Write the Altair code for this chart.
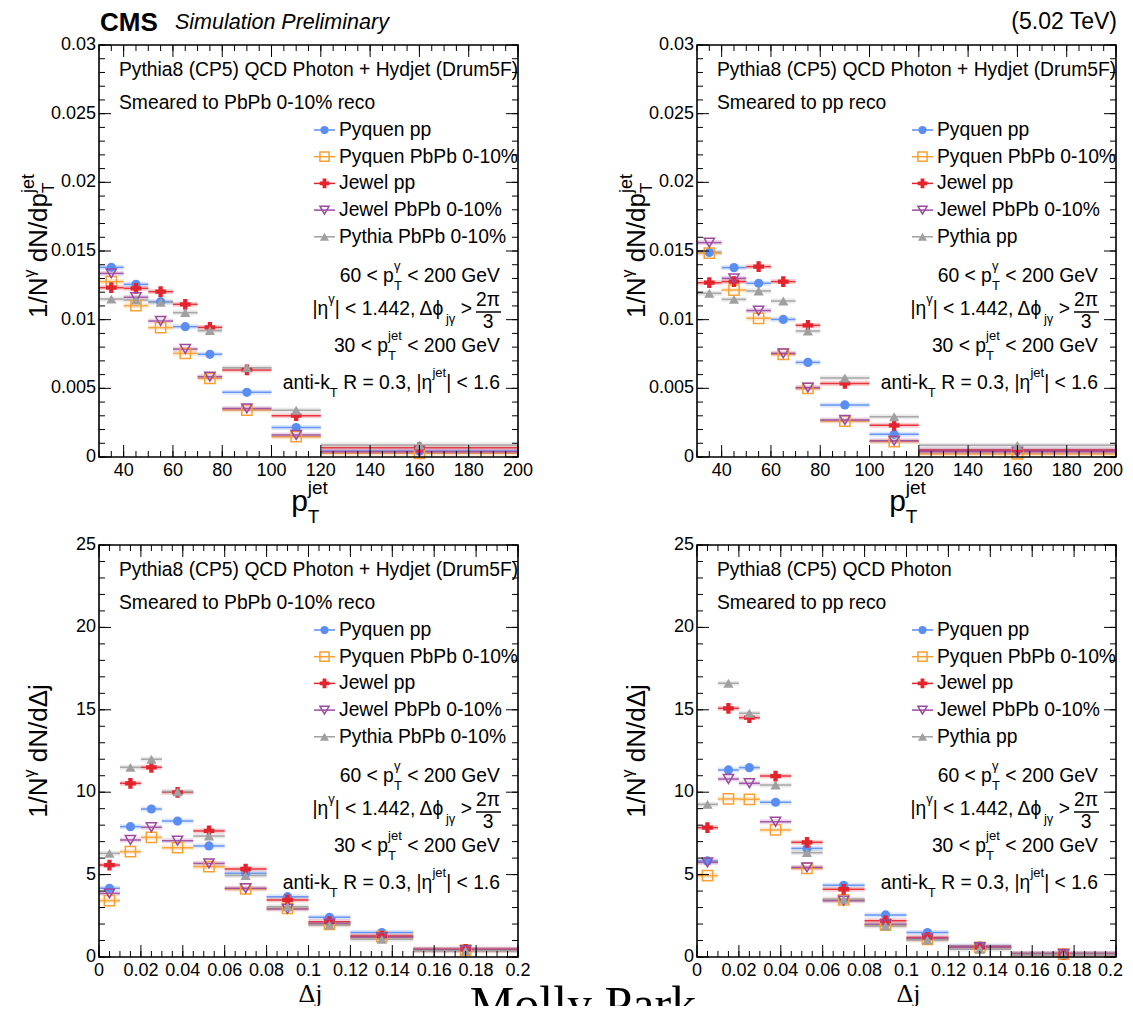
import altair as alt
import pandas as pd

FONT = "Liberation Sans, Helvetica, Arial, sans-serif"
SERIF = "Liberation Serif, Times New Roman, serif"
W, H = 419, 412          # size of one plot frame
VW, VH = 1018, 961       # whole drawing area (view)
PAD = {"left": 91, "top": 37, "right": 8, "bottom": 0}

# ---------------- data ----------------
pt_lo = [30, 40, 50, 60, 70, 80, 100, 120]
pt_hi = [40, 50, 60, 70, 80, 100, 120, 200]
pt_ctr = [35, 45, 55, 65, 75, 90, 110, 160]

dj_lo = [0.0, 0.01, 0.02, 0.03, 0.045, 0.06, 0.08, 0.10, 0.12, 0.15]
dj_hi = [0.01, 0.02, 0.03, 0.045, 0.06, 0.08, 0.10, 0.12, 0.15, 0.20]
dj_ctr = [0.005, 0.015, 0.025, 0.0375, 0.0525, 0.07, 0.09, 0.11, 0.135, 0.175]

# top-left: smeared to PbPb 0-10% reco
tl_pyquen_pp = [0.01381, 0.01257, 0.01131, 0.00949, 0.00748, 0.00471, 0.00214, 0.00044]
tl_pyquen_pbpb = [0.01277, 0.01102, 0.00942, 0.00755, 0.00573, 0.00342, 0.00148, 0.00027]
tl_jewel_pp = [0.01233, 0.01228, 0.01204, 0.01112, 0.00944, 0.00634, 0.00301, 0.00068]
tl_jewel_pbpb = [0.01337, 0.01163, 0.00990, 0.00786, 0.00585, 0.00354, 0.00160, 0.00039]
tl_pythia = [0.01150, 0.01143, 0.01126, 0.01051, 0.00920, 0.00650, 0.00340, 0.00087]

# top-right: smeared to pp reco
tr_pyquen_pp = [0.01490, 0.01379, 0.01265, 0.01002, 0.00689, 0.00379, 0.00165, 0.00051]
tr_pyquen_pbpb = [0.01485, 0.01216, 0.01010, 0.00748, 0.00500, 0.00262, 0.00112, 0.00022]
tr_jewel_pp = [0.01269, 0.01277, 0.01386, 0.01277, 0.00959, 0.00536, 0.00231, 0.00051]
tr_jewel_pbpb = [0.01561, 0.01301, 0.01066, 0.00755, 0.00505, 0.00269, 0.00119, 0.00039]
tr_pythia = [0.01192, 0.01148, 0.01209, 0.01136, 0.00917, 0.00575, 0.00293, 0.00085]

# bottom-left: smeared to PbPb 0-10% reco
bl_pyquen_pp = [4.17, 7.91, 8.98, 8.25, 6.74, 5.08, 3.66, 2.41, 1.48, 0.47]
bl_pyquen_pbpb = [3.42, 6.39, 7.26, 6.63, 5.48, 4.13, 2.95, 1.98, 1.23, 0.42]
bl_jewel_pp = [5.58, 10.54, 11.51, 9.99, 7.65, 5.34, 3.46, 2.14, 1.27, 0.47]
bl_jewel_pbpb = [3.86, 7.10, 7.87, 7.06, 5.68, 4.17, 2.92, 2.04, 1.20, 0.42]
bl_pythia = [6.29, 11.51, 12.00, 10.02, 7.34, 4.94, 3.05, 1.94, 1.07, 0.38]

# bottom-right: smeared to pp reco
br_pyquen_pp = [5.83, 11.35, 11.49, 9.39, 6.59, 4.35, 2.55, 1.48, 0.67, 0.22]
br_pyquen_pbpb = [4.94, 9.59, 9.57, 7.71, 5.38, 3.46, 1.94, 1.07, 0.59, 0.18]
br_jewel_pp = [7.85, 15.09, 14.52, 10.98, 6.96, 4.11, 2.20, 1.19, 0.59, 0.18]
br_jewel_pbpb = [5.74, 10.80, 10.54, 8.21, 5.44, 3.42, 1.98, 1.13, 0.59, 0.18]
br_pythia = [9.26, 16.61, 14.79, 10.44, 6.33, 3.50, 1.88, 1.03, 0.47, 0.15]

labels_pb = ["Pyquen pp", "Pyquen PbPb 0-10%", "Jewel pp", "Jewel PbPb 0-10%", "Pythia PbPb 0-10%"]
labels_pp = ["Pyquen pp", "Pyquen PbPb 0-10%", "Jewel pp", "Jewel PbPb 0-10%", "Pythia pp"]

pt_x_ticks = [40, 60, 80, 100, 120, 140, 160, 180, 200]
pt_x_labels = ["40", "60", "80", "100", "120", "140", "160", "180", "200"]
dj_x_ticks = [0, 0.02, 0.04, 0.06, 0.08, 0.1, 0.12, 0.14, 0.16, 0.18, 0.2]
dj_x_labels = ["0", "0.02", "0.04", "0.06", "0.08", "0.1", "0.12", "0.14", "0.16", "0.18", "0.2"]
pt_y_ticks = [0, 0.005, 0.01, 0.015, 0.02, 0.025, 0.03]
pt_y_labels = ["0", "0.005", "0.01", "0.015", "0.02", "0.025", "0.03"]
dj_y_ticks = [0, 5, 10, 15, 20, 25]
dj_y_labels = ["0", "5", "10", "15", "20", "25"]

# ---------------- style ----------------
COLORS = ["#5b8ef2", "#f8a032", "#e4242c", "#9c4a9f", "#a0a0a0"]
SHAPES = ["circle", "square", "cross", "triangle-down", "triangle-up"]
FILLED = [True, False, True, False, True]
SIZES = [85, 105, 115, 105, 105]
FS = 19.3

HELV = {' ': 278, '!': 278, '%': 889, '(': 333, ')': 333, '+': 584, ',': 278, '-': 333,
        '.': 278, '/': 278, ':': 278, '<': 584, '=': 584, '>': 584, '|': 260,
        'A': 667, 'B': 667, 'C': 722, 'D': 722, 'E': 667, 'F': 611, 'G': 778, 'H': 722,
        'I': 278, 'J': 500, 'K': 667, 'L': 556, 'M': 833, 'N': 722, 'O': 778, 'P': 667,
        'Q': 778, 'R': 722, 'S': 667, 'T': 611, 'U': 722, 'V': 667, 'W': 944, 'X': 667,
        'Y': 667, 'Z': 611, 'a': 556, 'b': 556, 'c': 500, 'd': 556, 'e': 556, 'f': 278,
        'g': 556, 'h': 556, 'i': 222, 'j': 222, 'k': 500, 'l': 222, 'm': 833, 'n': 556,
        'o': 556, 'p': 556, 'q': 556, 'r': 333, 's': 500, 't': 278, 'u': 556, 'v': 500,
        'w': 722, 'x': 500, 'y': 500, 'z': 500, 'γ': 500, 'η': 556, 'ϕ': 640, 'Δ': 668,
        'π': 580}


def tw(s, size):
    return sum(HELV.get(c, 556) for c in s) * size / 1000.0


ONE = pd.DataFrame({"k": [0]})


def txt(t, x, y, size, align="left", baseline="alphabetic", font=FONT, **kw):
    return alt.Chart(ONE).mark_text(text=t, fontSize=size, font=font, align=align,
                                    baseline=baseline, color="black", **kw).encode(
        x=alt.value(x), y=alt.value(y))


def rich(segments, x, y, align="left", angle=0):
    total = sum(max(tw(t, s) for t, s, d in seg) for seg in segments)
    start = {"left": 0, "right": -total, "center": -total / 2}[align]
    out = []
    pos = start
    for seg in segments:
        adv = max(tw(t, s) for t, s, d in seg)
        for t, s, d in seg:
            lead = len(t) - len(t.lstrip(" "))
            p = pos + tw(" " * lead, s)
            tt = t.strip(" ")
            if angle == 0:
                out.append(txt(tt, x + p, y + d, s))
            else:
                out.append(txt(tt, x + d, y - p, s, angle=270))
        pos += adv
    return out


def panel(ox, oy, lo, hi, ctr, series, labels, xdom, ydom, xmaj, xlab, xmin_step,
          ymaj, ylab, ymin_step, head1, head2, ytitle, xtitle, right_col=False):
    xs = alt.Scale(domain=xdom, range=[ox, ox + W], nice=False, zero=False)
    ys = alt.Scale(domain=ydom, range=[oy + H, oy], nice=False, zero=False)

    def X(f):
        return alt.X(f, scale=xs, axis=None)

    def Y(f):
        return alt.Y(f, scale=ys, axis=None)

    layers = []
    # data: horizontal bin-width bars and markers
    for vals, col in zip(series, COLORS):
        df = pd.DataFrame({"lo": lo, "hi": hi, "c": ctr, "v": vals})
        layers.append(alt.Chart(df).mark_rule(color=col, strokeWidth=5, opacity=0.22).encode(
            x=X("lo:Q"), x2="hi:Q", y=Y("v:Q")))
        layers.append(alt.Chart(df).mark_rule(color=col, strokeWidth=1.5, opacity=0.9).encode(
            x=X("lo:Q"), x2="hi:Q", y=Y("v:Q")))
    for vals, col, shp, fil, sz in zip(series, COLORS, SHAPES, FILLED, SIZES):
        df = pd.DataFrame({"c": ctr, "v": vals})
        layers.append(alt.Chart(df).mark_point(shape=shp, filled=fil, color=col, size=sz,
                                               opacity=1, strokeWidth=1.5).encode(
            x=X("c:Q"), y=Y("v:Q")))

    # frame
    layers.append(alt.Chart(ONE).mark_rect(fillOpacity=0, stroke="black", strokeWidth=1.6).encode(
        x=alt.value(ox), x2=alt.value(ox + W), y=alt.value(oy), y2=alt.value(oy + H)))

    # ticks (inward, on all four sides)
    n = int(round((xdom[1] - xdom[0]) / xmin_step))
    xminor = [xdom[0] + i * xmin_step for i in range(n + 1)]
    m = int(round((ydom[1] - ydom[0]) / ymin_step))
    yminor = [ydom[0] + i * ymin_step for i in range(m + 1)]
    for vals, ln in ((xmaj, 12), (xminor, 6)):
        d = pd.DataFrame({"v": vals})
        layers.append(alt.Chart(d).mark_rule(color="black", strokeWidth=1).encode(
            x=X("v:Q"), y=alt.value(oy + H), y2=alt.value(oy + H - ln)))
        layers.append(alt.Chart(d).mark_rule(color="black", strokeWidth=1).encode(
            x=X("v:Q"), y=alt.value(oy), y2=alt.value(oy + ln)))
    for vals, ln in ((ymaj, 12), (yminor, 6)):
        d = pd.DataFrame({"v": vals})
        layers.append(alt.Chart(d).mark_rule(color="black", strokeWidth=1).encode(
            y=Y("v:Q"), x=alt.value(ox), x2=alt.value(ox + ln)))
        layers.append(alt.Chart(d).mark_rule(color="black", strokeWidth=1).encode(
            y=Y("v:Q"), x=alt.value(ox + W), x2=alt.value(ox + W - ln)))

    # tick labels (the last one in the right column is kept inside the page)
    k = len(xmaj) - 1 if right_col else len(xmaj)
    layers.append(alt.Chart(pd.DataFrame({"v": xmaj[:k], "t": xlab[:k]})).mark_text(
        font=FONT, fontSize=18, align="center", baseline="top", color="black").encode(
        x=X("v:Q"), y=alt.value(oy + H + 5), text="t:N"))
    if right_col:
        layers.append(alt.Chart(pd.DataFrame({"v": xmaj[k:], "t": xlab[k:]})).mark_text(
            font=FONT, fontSize=18, align="right", baseline="top", color="black", dx=7).encode(
            x=X("v:Q"), y=alt.value(oy + H + 5), text="t:N"))
    layers.append(alt.Chart(pd.DataFrame({"v": ymaj, "t": ylab})).mark_text(
        font=FONT, fontSize=18, align="right", baseline="middle", color="black").encode(
        y=Y("v:Q"), x=alt.value(ox - 3), text="t:N"))

    # header text
    layers.append(txt(head1, ox + 20, oy + 25, FS, baseline="middle"))
    layers.append(txt(head2, ox + 20, oy + 58, FS, baseline="middle"))

    # legend
    for i, (lab, col, shp, fil, sz) in enumerate(zip(labels, COLORS, SHAPES, FILLED, SIZES)):
        yy = oy + 85 + 26.7 * i
        layers.append(alt.Chart(ONE).mark_rule(color=col, strokeWidth=1.5).encode(
            x=alt.value(ox + 215), x2=alt.value(ox + 236), y=alt.value(yy)))
        layers.append(alt.Chart(ONE).mark_point(shape=shp, filled=fil, color=col, size=sz * 0.8,
                                                opacity=1, strokeWidth=1.5).encode(
            x=alt.value(ox + 225.5), y=alt.value(yy)))
        layers.append(txt(lab, ox + 240, yy, FS, baseline="middle"))

    # selection text
    R = ox + 401
    layers += rich([[("60 < p", FS, 0)], [("T", 13, 8), ("γ", 13, -12)], [(" < 200 GeV", FS, 0)]],
                   R, oy + 237, "right")
    layers += rich([[("|η", FS, 0)], [("γ", 13, -12)], [("| < 1.442, Δϕ", FS, 0)], [("jγ", 13, 8)],
                    [(" >", FS, 0)]], ox + 373, oy + 270, "right")
    layers.append(txt("2π", ox + 389, oy + 261, FS, align="center"))
    layers.append(txt("3", ox + 389, oy + 283, FS, align="center"))
    layers.append(alt.Chart(ONE).mark_rule(color="black", strokeWidth=1.5).encode(
        x=alt.value(ox + 377), x2=alt.value(ox + 402), y=alt.value(oy + 267)))
    layers += rich([[("30 < p", FS, 0)], [("T", 13, 8), ("jet", 13, -12)], [(" < 200 GeV", FS, 0)]],
                   R, oy + 307, "right")
    layers += rich([[("anti-k", FS, 0)], [("T", 13, 8)], [(" R = 0.3, |η", FS, 0)], [("jet", 13, -12)],
                    [("| < 1.6", FS, 0)]], R, oy + 344, "right")

    # axis titles
    if xtitle == "pt":
        layers += rich(ytitle, ox - 52, oy + H / 2 - 5, "center", angle=270)
        layers += rich([[("p", 30, 0)], [("T", 19, 12), ("jet", 19, -17)]], ox + W / 2 + 1, oy + 466, "center")
    else:
        layers += rich(ytitle, ox - 52, oy + H / 2, "center", angle=270)
        layers.append(txt("Δj", ox + W / 2 + 2, oy + 457, 26, align="center", font=SERIF))
    return alt.layer(*layers)


ytitle_pt = [[("1/N", 26, 0)], [("γ", 16, -12)], [(" dN/dp", 26, 0)], [("T", 17, 7), ("jet", 18, -13)]]
ytitle_dj = [[("1/N", 26, 0)], [("γ", 16, -12)], [(" dN/dΔj", 26, 0)]]

head_hyd = "Pythia8 (CP5) QCD Photon + Hydjet (Drum5F)"
OX2, OY2 = 598, 500

tl = panel(0, 0, pt_lo, pt_hi, pt_ctr,
           [tl_pyquen_pp, tl_pyquen_pbpb, tl_jewel_pp, tl_jewel_pbpb, tl_pythia],
           labels_pb, [30, 200], [0, 0.03], pt_x_ticks, pt_x_labels, 5,
           pt_y_ticks, pt_y_labels, 0.001,
           head_hyd, "Smeared to PbPb 0-10% reco", ytitle_pt, "pt")
tr = panel(OX2, 0, pt_lo, pt_hi, pt_ctr,
           [tr_pyquen_pp, tr_pyquen_pbpb, tr_jewel_pp, tr_jewel_pbpb, tr_pythia],
           labels_pp, [30, 200], [0, 0.03], pt_x_ticks, pt_x_labels, 5,
           pt_y_ticks, pt_y_labels, 0.001,
           head_hyd, "Smeared to pp reco", ytitle_pt, "pt", right_col=True)
bl = panel(0, OY2, dj_lo, dj_hi, dj_ctr,
           [bl_pyquen_pp, bl_pyquen_pbpb, bl_jewel_pp, bl_jewel_pbpb, bl_pythia],
           labels_pb, [0, 0.2], [0, 25], dj_x_ticks, dj_x_labels, 0.005,
           dj_y_ticks, dj_y_labels, 1,
           head_hyd, "Smeared to PbPb 0-10% reco", ytitle_dj, "dj")
br = panel(OX2, OY2, dj_lo, dj_hi, dj_ctr,
           [br_pyquen_pp, br_pyquen_pbpb, br_jewel_pp, br_jewel_pbpb, br_pythia],
           labels_pp, [0, 0.2], [0, 25], dj_x_ticks, dj_x_labels, 0.005,
           dj_y_ticks, dj_y_labels, 1,
           "Pythia8 (CP5) QCD Photon", "Smeared to pp reco", ytitle_dj, "dj", right_col=True)

extras = alt.layer(
    txt("CMS", 1, -35, 26, baseline="top", fontWeight="bold"),
    txt("Simulation Preliminary", 76, -33, 21.5, baseline="top", fontStyle="italic"),
    txt("(5.02 TeV)", VW, -34, 23, align="right", baseline="top"),
    txt("Molly Park", 484, 976, 50, align="center", font=SERIF),
)

chart = alt.layer(tl, tr, bl, br, extras).resolve_scale(
    x="independent", y="independent").properties(
    width=VW, height=VH, padding=PAD, background="white",
    autosize=alt.AutoSizeParams(type="none")).configure_view(stroke="transparent")

chart.save("out.html", embed_options={"renderer": "svg", "actions": False})
